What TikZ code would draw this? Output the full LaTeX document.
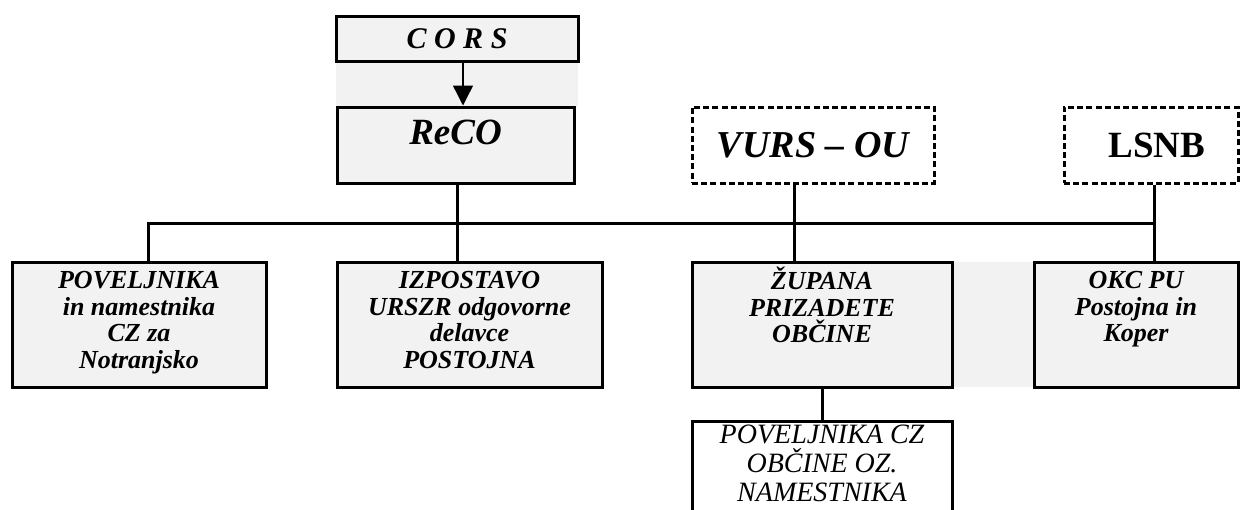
\documentclass[tikz,border=0pt]{standalone}
\usepackage{fontspec}
\setmainfont{Liberation Serif}
\usetikzlibrary{positioning,arrows.meta}
\definecolor{boxgray}{HTML}{F2F2F2}
\tikzstyle{box}=[draw=black,fill=boxgray,line width=1.5pt,shape=rectangle,inner sep=0pt]
\tikzstyle{dbox}=[box,fill=white,dash pattern=on 3pt off 1.6pt,line width=1.5pt]
\tikzstyle{txt}=[inner sep=0pt,align=center,font=\bfseries\itshape\fontsize{13}{13.3}\selectfont]
\tikzstyle{link}=[line width=1.5pt]

\begin{document}
\begin{tikzpicture}[x=0.5pt,y=-0.5pt]
	\useasboundingbox (0,0) rectangle (1242,509);
	\clip (0,0) rectangle (1242,509);
	\fill[boxgray] (336,61) rectangle (578,107);
	\fill[boxgray] (952,262) rectangle (1034,387);
	\node[box,minimum width=121pt,minimum height=22.5pt] (cors) at (457,38.5) {};
	\node[box,minimum width=118.5pt,minimum height=38pt] (reco) at (455.5,145) {};
	\node[dbox,minimum width=121pt,minimum height=38pt] (vurs) at (813,145) {};
	\node[dbox,minimum width=87pt,minimum height=38pt] (lsnb) at (1151,145) {};
	\node[box,minimum width=127pt,minimum height=62.5pt] (pov) at (139,324.5) {};
	\node[box,minimum width=132.5pt,minimum height=62.5pt] (izp) at (469.5,324.5) {};
	\node[box,minimum width=130pt,minimum height=62.5pt] (zup) at (822,324.5) {};
	\node[box,minimum width=102pt,minimum height=62.5pt] (okc) at (1136,324.5) {};
	\node[box,fill=white,minimum width=130pt,minimum height=60pt] (obc) at (822,481) {};

	\node[txt,font=\bfseries\itshape\fontsize{15}{18}\selectfont] (cors-t) at (cors) {C O R S};
	\node[txt,font=\bfseries\itshape\fontsize{18.5}{21}\selectfont,below=7pt of reco.north] (reco-t) {ReCO};
	\node[txt,font=\bfseries\itshape\fontsize{19}{22}\selectfont] (vurs-t) at (vurs) {VURS -- OU};
	\node[txt,font=\bfseries\fontsize{18.5}{22}\selectfont,xshift=3pt] (lsnb-t) at (lsnb) {LSNB};
	\node[txt,below=5.3pt of pov.north] (pov-t) {POVELJNIKA\\in namestnika\\CZ za\\Notranjsko};
	\node[txt,below=5.3pt of izp.north] (izp-t) {IZPOSTAVO\\URSZR odgovorne\\delavce\\POSTOJNA};
	\node[txt,below=3pt of zup.north] (zup-t) {ŽUPANA\\PRIZADETE\\OBČINE};
	\node[txt,below=5.3pt of okc.north] (okc-t) {OKC PU\\Postojna in\\Koper};
	\node[txt,font=\itshape\fontsize{14}{14.5}\selectfont,below=2.5pt of obc.north] (obc-t) {POVELJNIKA CZ\\OBČINE OZ.\\NAMESTNIKA};

	\draw[-{Triangle[width=10pt,length=10pt]},line width=0.7pt] ([xshift=3pt]cors.south) -- ([xshift=3pt]cors.south |- reco.north);
	\coordinate (bus) at (0,223);
	\draw[link] ([xshift=4.5pt]pov.north) |- ([xshift=1.5pt]lsnb.south |- bus);
	\draw[link] ([xshift=1.5pt]lsnb.south) -- ([xshift=1.5pt]lsnb.south |- okc.north);
	\draw[link] ([xshift=1pt]reco.south) -- ([xshift=1pt]reco.south |- izp.north);
	\draw[link] ([xshift=-9.5pt]vurs.south) -- ([xshift=-9.5pt]vurs.south |- zup.north);
	\draw[link] (zup.south) -- (obc.north);
\end{tikzpicture}
\end{document}
